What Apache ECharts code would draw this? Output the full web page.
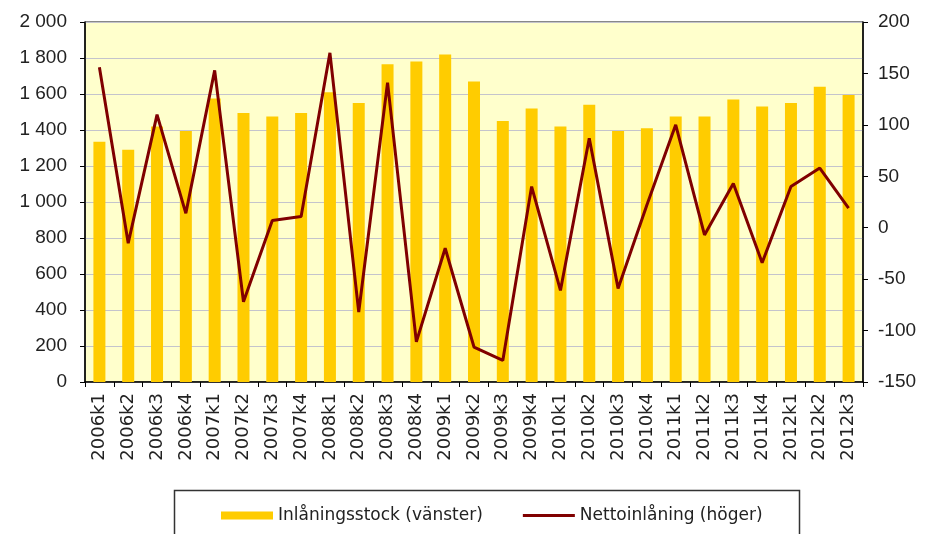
<!DOCTYPE html>
<html>
<head>
<meta charset="utf-8">
<script src="https://cdn.jsdelivr.net/npm/echarts@6/dist/echarts.min.js"></script>
<style>
  html, body { margin: 0; padding: 0; background: #fff; }
  #chart { width: 930px; height: 534px; }
</style>
</head>
<body>
<div id="chart"></div>
<script>
// kvartal
var quarters = ["2006k1","2006k2","2006k3","2006k4","2007k1","2007k2","2007k3","2007k4",
  "2008k1","2008k2","2008k3","2008k4","2009k1","2009k2","2009k3","2009k4",
  "2010k1","2010k2","2010k3","2010k4","2011k1","2011k2","2011k3","2011k4",
  "2012k1","2012k2","2012k3"];
// Inlåningsstock (vänster axel)
var stock = [1335,1290,1420,1395,1575,1495,1475,1495,1610,1550,1765,1780,1820,1670,1450,1520,
  1420,1540,1395,1410,1475,1475,1570,1530,1550,1640,1595];
// Nettoinlåning (höger axel)
var netto = [156,-15,110,14,153,-72,7,11,170,-82,141,-111,-20,-116,-129,40,
  -61,87,-59,22,100,-7,43,-34,40,58,19];

var stockName = "Inlåningsstock (vänster)";
var nettoName = "Nettoinlåning (höger)";

function thousands(v) {
  if (v >= 1000) return Math.floor(v / 1000) + " " + String(v % 1000).padStart(3, "0");
  return String(v);
}

var chart = echarts.init(document.getElementById("chart"));
chart.setOption({
  animation: false,
  textStyle: { fontFamily: "Liberation Sans, Arial, sans-serif" },
  grid: {
    left: 85, right: 67, top: 22, bottom: 152,
    show: true,
    backgroundColor: "#FFFFCC",
    borderColor: "#111",
    borderWidth: 1
  },
  legend: {
    left: 216, top: 502,
    itemGap: 40,
    itemWidth: 52, itemHeight: 8,
    textStyle: { fontFamily: "DejaVu Sans", fontSize: 17, color: "#222" },
    data: [
      { name: stockName, icon: "rect" },
      { name: nettoName, icon: "path://M0,0H52V3H0Z" }
    ]
  },
  graphic: [{
    type: "rect",
    shape: { x: 174.5, y: 490.5, width: 625, height: 60 },
    style: { fill: "none", stroke: "#333", lineWidth: 1.5 },
    silent: true
  }],
  xAxis: {
    type: "category",
    data: quarters,
    boundaryGap: true,
    axisLine: { lineStyle: { color: "#000", width: 1.5 } },
    axisTick: { show: true, alignWithLabel: false, length: 5, lineStyle: { color: "#000" } },
    axisLabel: { rotate: 90, fontFamily: "DejaVu Sans", fontSize: 18, color: "#222", margin: 11, interval: 0 }
  },
  yAxis: [
    {
      type: "value", min: 0, max: 2000, interval: 200,
      axisLine: { show: true, lineStyle: { color: "#000", width: 1.5 } },
      axisTick: { show: true, length: 5, lineStyle: { color: "#000" } },
      axisLabel: { fontSize: 19, color: "#222", margin: 18, formatter: thousands },
      splitLine: { lineStyle: { color: "#C4C4CC", width: 1 } }
    },
    {
      type: "value", min: -150, max: 200, interval: 50,
      position: "right",
      axisLine: { show: true, lineStyle: { color: "#000", width: 1.5 } },
      axisTick: { show: true, length: 5, lineStyle: { color: "#000" } },
      axisLabel: { fontSize: 19, color: "#222", margin: 15 },
      splitLine: { show: false }
    }
  ],
  series: [
    {
      name: stockName,
      type: "bar",
      yAxisIndex: 0,
      barWidth: 12,
      itemStyle: { color: "#FFCC00" },
      data: stock
    },
    {
      name: nettoName,
      type: "line",
      yAxisIndex: 1,
      symbol: "none",
      lineStyle: { color: "#800000", width: 3 },
      itemStyle: { color: "#800000" },
      z: 5,
      data: netto
    }
  ]
});
</script>
</body>
</html>
